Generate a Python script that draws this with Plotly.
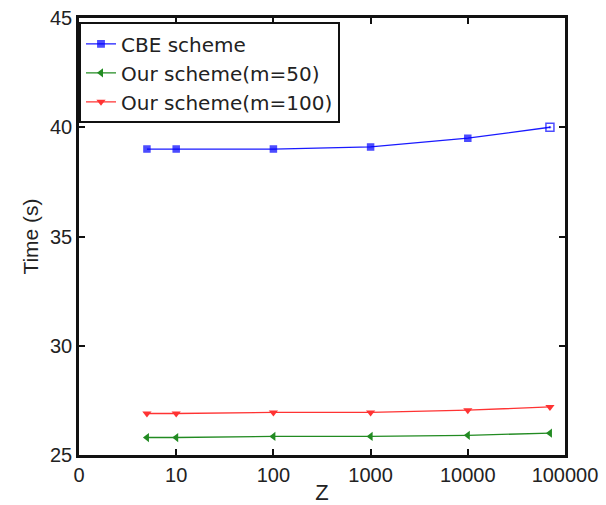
import plotly.graph_objects as go

z_values = [5, 10, 100, 1000, 10000, 70000]
cbe_time = [39.0, 39.0, 39.0, 39.1, 39.5, 40.0]
ours_m50 = [25.8, 25.8, 25.85, 25.85, 25.9, 26.0]
ours_m100 = [26.9, 26.9, 26.95, 26.95, 27.05, 27.2]

x_tickvals = [1, 10, 100, 1000, 10000, 100000]
x_ticktext = ["0", "10", "100", "1000", "10000", "100000"]
y_tickvals = [25, 30, 35, 40, 45]

fig = go.Figure()
fig.add_trace(go.Scatter(
    x=z_values, y=cbe_time, mode="lines+markers", name="CBE scheme",
    line=dict(color="#1a1aff", width=1.3),
    marker=dict(symbol=["square"] * 5 + ["square-open-dot"], size=[6] * 5 + [8], color="#0000ff",
                line=dict(color="#0000ff", width=1.5)),
))
fig.add_trace(go.Scatter(
    x=z_values, y=ours_m50, mode="lines+markers", name="Our scheme(m=50)",
    line=dict(color="#228B22", width=1.3),
    marker=dict(symbol="triangle-left", size=8, color="#228B22"),
))
fig.add_trace(go.Scatter(
    x=z_values, y=ours_m100, mode="lines+markers", name="Our scheme(m=100)",
    line=dict(color="#ff3333", width=1.3),
    marker=dict(symbol="triangle-down", size=8, color="#ff3333"),
))

font_family = "Liberation Sans, Arial, sans-serif"
fig.update_layout(
    width=606, height=505,
    margin=dict(l=79, r=41, t=18, b=50),
    paper_bgcolor="white", plot_bgcolor="white",
    font=dict(family=font_family, size=20, color="#222222"),
    showlegend=True,
    legend=dict(
        x=0.0, y=0.99, xanchor="left", yanchor="top",
        bgcolor="white", bordercolor="#111111", borderwidth=2,
        font=dict(size=20, family="DejaVu Sans, sans-serif", color="#222222"),
        tracegroupgap=0, itemwidth=30,
    ),
    xaxis=dict(
        type="log", range=[0, 5], automargin=False,
        tickvals=x_tickvals, ticktext=x_ticktext,
        ticks="inside", ticklen=6, tickwidth=2, tickcolor="#111111",
        showline=True, linecolor="#111111", linewidth=2.5, mirror="ticks",
        showgrid=False, zeroline=False,
        title=dict(text="Z", font=dict(size=22), standoff=2),
    ),
    yaxis=dict(
        range=[25, 45], tickvals=y_tickvals, automargin=False,
        ticks="inside", ticklen=6, tickwidth=2, tickcolor="#111111",
        showline=True, linecolor="#111111", linewidth=2.5, mirror="ticks",
        showgrid=False, zeroline=False,
        title=dict(text="Time (s)", font=dict(size=21), standoff=6),
    ),
)

fig.write_html("out.html", config={"displayModeBar": False},
               post_script="document.body.style.margin='0';")
